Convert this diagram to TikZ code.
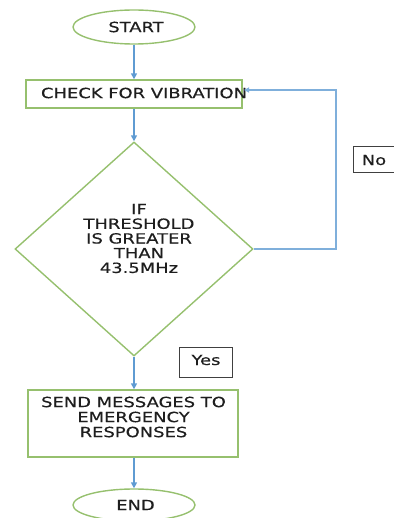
\documentclass[tikz,border=0pt]{standalone}
\usepackage{fontspec}
\setmainfont[FakeStretch=1.28,FakeBold=0.4]{DejaVu Sans}
\usetikzlibrary{shapes.geometric,arrows.meta}
\definecolor{boxgreen}{RGB}{150,192,110}
\definecolor{arrblue}{RGB}{95,155,210}
\definecolor{txtgray}{RGB}{30,30,30}
\tikzset{
  term/.style={ellipse,draw=boxgreen,line width=1.4pt,inner sep=0pt},
  procbox/.style={rectangle,draw=boxgreen,line width=1.4pt,inner sep=0pt},
  decbox/.style={diamond,draw=boxgreen,line width=1.4pt,inner sep=0pt},
  lblbox/.style={rectangle,draw=black!75,line width=0.9pt,inner sep=0pt},
  txt/.style={font=\fontsize{14}{15}\selectfont,text=txtgray,align=center,inner sep=0pt},
  flow/.style={draw=arrblue,line width=1.5pt,-{Triangle[length=6pt,width=6pt]}},
  loopline/.style={draw=arrblue!80,line width=1.1pt,-{Triangle[length=5pt,width=5pt]}}
}
\begin{document}
\begin{tikzpicture}[x=1pt,y=-1pt]
\useasboundingbox (0,0) rectangle (393,518);
% shapes
\node[term,minimum width=122pt,minimum height=34pt] (start) at (134,27) {};
\node[txt] (startt) at (136,27) {START};
\node[procbox,minimum width=216pt,minimum height=28pt] (chk) at (134,94) {};
\node[txt] (chkt) at (144,93) {CHECK FOR VIBRATION};
\node[decbox,minimum width=238pt,minimum height=214pt] (dia) at (134,249) {};
\node[txt,font=\fontsize{14}{14.7}\selectfont] (diat) at (139,238.5) {IF\\THRESHOLD\\IS GREATER\\THAN\\43.5MHz};
\node[procbox,minimum width=210pt,minimum height=67pt] (send) at (133,423.5) {};
\node[txt] (sendt) at (133.5,417) {SEND MESSAGES TO\\EMERGENCY\\RESPONSES};
\node[term,minimum width=122pt,minimum height=32pt] (endn) at (134,505) {};
\node[txt] (endt) at (135.5,505) {END};
% labels
\node[lblbox,minimum width=50pt,minimum height=26pt] (nobox) at (378,159) {};
\node[txt] (not) at (374,160) {No};
\node[lblbox,minimum width=53pt,minimum height=30pt] (yesbox) at (205.5,362) {};
\node[txt] (yest) at (206,360) {Yes};
% connectors
\draw[flow] (start.south) -- (start.south |- chk.north);
\draw[flow] (chk.south) -- (dia.north);
\draw[flow] (dia.south) -- (dia.south |- send.north);
\draw[flow] (dia.south |- send.south) -- (dia.south |- endn.north);
\coordinate (loopturn) at (336,90);
\coordinate (loopin) at (244,90);
\draw[loopline] (dia.east) -| (loopturn) -- (loopin);
\end{tikzpicture}
\end{document}
